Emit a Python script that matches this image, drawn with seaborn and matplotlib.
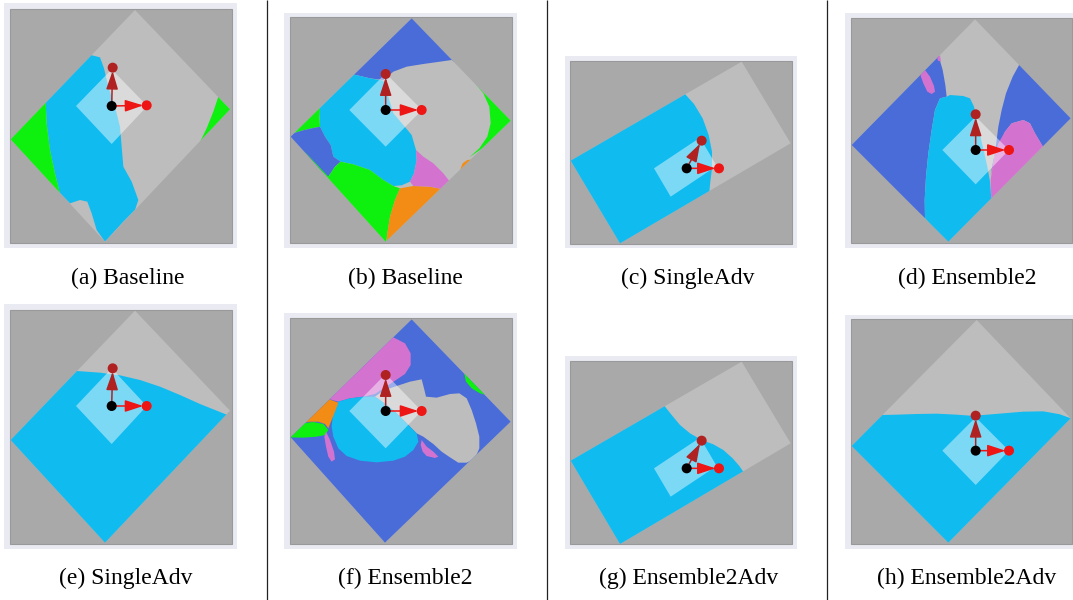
import matplotlib
matplotlib.use("Agg")
import matplotlib.pyplot as plt
from matplotlib.patches import Polygon, Rectangle
import seaborn as sns

sns.set_theme(style="darkgrid")
plt.rcParams["font.family"] = ["Liberation Serif", "DejaVu Serif"]

W, H = 1073, 600

# colours
BG = "#a9a9a9"
FIELD = "#bdbdbd"
CYAN = "#10bbf0"
GREEN = "#0ef00e"
ROYAL = "#4a6cd8"
ORCHID = "#d472d0"
ORANGE = "#f28c14"
FRAME = "#eaeaf2"

# panel layout (figure px) -- each panel drawn in 3x "zoom" units
labels = ["(a) Baseline", "(b) Baseline", "(c) SingleAdv", "(d) Ensemble2",
          "(e) SingleAdv", "(f) Ensemble2", "(g) Ensemble2Adv", "(h) Ensemble2Adv"]
crop_origin = [(0, 0), (270, 0), (550, 40), (830, 0), (0, 300), (270, 300), (550, 340), (830, 300)]
crop_size = [(250, 300), (270, 300), (260, 260), (243, 300), (250, 300), (270, 300), (260, 260), (243, 300)]
caption_xy = [(128, 278), (405, 278), (688, 278), (967, 278), (126, 578), (405, 578), (689, 578), (967, 578)]
separators_x = [267, 547, 827]

frames = [(12, 8, 710, 745), (42, 38, 740, 745), (45, 48, 740, 625), (45, 40, 735, 745),
          (12, 12, 710, 748), (42, 40, 740, 748), (45, 48, 740, 628), (45, 45, 735, 748)]
inners = [(30, 27, 695, 728), (60, 52, 725, 730), (60, 62, 725, 612), (62, 55, 725, 730),
          (30, 30, 695, 732), (60, 55, 725, 732), (60, 62, 725, 612), (62, 58, 725, 732)]

# input point, first and second direction points
origin_pts = [(335, 318), (347, 330), (410, 385), (437, 450), (335, 318), (347, 333), (410, 385), (437, 452)]
dir1_pts = [(440, 316), (455, 330), (507, 385), (537, 450), (440, 318), (455, 333), (507, 385), (537, 452)]
dir2_pts = [(338, 203), (347, 222), (455, 302), (437, 343), (338, 205), (347, 225), (455, 302), (437, 347)]

# sampled domain (rotated square / rectangle)
domain_a = [(405, 30), (690, 328), (315, 725), (32, 418)]
domain_b = [(425, 55), (722, 362), (347, 725), (62, 410)]
domain_c = [(575, 65), (722, 310), (210, 610), (62, 362)]
domain_d = [(435, 58), (722, 355), (355, 725), (65, 435)]
domain_e = [(405, 32), (690, 332), (315, 728), (32, 420)]
domain_f = [(425, 58), (722, 365), (345, 728), (62, 412)]
domain_g = [(575, 65), (722, 310), (210, 612), (62, 362)]
domain_h = [(440, 60), (722, 355), (355, 728), (65, 438)]

# epsilon ball around the input
ball_a = [(228, 318), (335, 208), (442, 318), (335, 432)]
ball_b = [(238, 330), (347, 220), (456, 330), (347, 440)]
ball_c = [(312, 385), (450, 293), (500, 378), (362, 470)]
ball_d = [(337, 450), (437, 350), (537, 450), (437, 553)]
ball_e = [(228, 318), (335, 205), (440, 318), (335, 432)]
ball_f = [(238, 333), (347, 222), (455, 333), (347, 445)]
ball_g = [(312, 385), (450, 293), (500, 378), (362, 470)]
ball_h = [(337, 452), (437, 352), (537, 452), (437, 555)]

# decision regions (clipped to domain)
a_cyan = [(272, 165), (300, 172), (312, 205), (325, 260), (345, 320), (360, 380), (365, 440), (370, 500),
          (395, 545), (415, 600), (405, 630), (370, 665), (315, 725), (290, 690), (275, 640), (262, 605),
          (240, 600), (210, 610), (180, 580), (165, 520), (150, 450), (140, 370), (137, 305), (100, 260), (240, 130)]
a_green_l = [(137, 305), (140, 370), (150, 450), (165, 520), (180, 580), (150, 600), (0, 420), (100, 290)]
a_green_r = [(655, 290), (640, 335), (620, 385), (598, 430), (650, 440), (720, 320), (680, 260)]

b_royal_top = [(245, 222), (300, 235), (340, 240), (370, 215), (410, 200), (460, 192), (510, 185), (545, 180),
               (580, 205), (620, 256), (700, 200), (430, 0), (200, 200)]
b_green_r = [(620, 256), (640, 280), (658, 320), (662, 370), (652, 410), (628, 445), (598, 472), (760, 360)]
b_orange_r = [(610, 478), (592, 480), (578, 490), (572, 505), (572, 522), (650, 520)]
b_cyan = [(245, 222), (300, 235), (340, 242), (355, 290), (370, 340), (400, 375), (425, 405), (438, 450),
          (440, 480), (432, 520), (420, 545), (395, 556), (370, 558), (340, 540), (300, 510), (250, 493),
          (212, 485), (190, 470), (182, 435), (165, 410), (150, 380), (148, 340), (150, 325), (100, 300), (230, 180)]
b_green_l = [(150, 325), (148, 350), (150, 380), (125, 385), (95, 392), (70, 400), (30, 380), (120, 290)]
b_royal_l = [(70, 400), (95, 392), (125, 385), (150, 380), (165, 410), (182, 435), (190, 470), (212, 485),
             (195, 500), (175, 530), (30, 420)]
b_green_b = [(175, 530), (195, 500), (212, 485), (250, 493), (300, 510), (340, 540), (370, 558), (390, 565),
             (375, 600), (360, 650), (352, 700), (347, 740), (100, 450)]
b_orange_b = [(390, 565), (430, 558), (480, 560), (520, 568), (545, 552), (600, 560), (420, 710), (370, 722),
              (350, 740), (352, 700), (360, 650), (375, 600)]
b_orchid = [(438, 450), (460, 470), (490, 490), (520, 520), (545, 552), (520, 568), (480, 560), (430, 558),
            (420, 545), (432, 520), (440, 480)]

c_cyan = [(405, 162), (432, 192), (458, 235), (476, 285), (486, 335), (486, 385), (481, 425), (478, 455),
          (200, 640), (30, 360), (390, 140)]

d_royal_l = [(325, 165), (338, 210), (346, 255), (350, 290), (330, 295), (315, 330), (305, 390), (295, 460),
             (288, 530), (284, 600), (285, 655), (40, 430), (300, 140)]
d_orchid_s = [(275, 215), (285, 210), (300, 230), (312, 258), (315, 275), (305, 282), (292, 275), (280, 250), (272, 228)]
d_orchid_t = [(320, 168), (330, 166), (333, 185), (324, 182)]
d_cyan = [(350, 290), (360, 285), (400, 288), (420, 295), (432, 320), (440, 360), (450, 405), (462, 455),
          (472, 500), (480, 545), (484, 598), (355, 740), (285, 655), (284, 600), (288, 530), (295, 460),
          (305, 390), (315, 330), (330, 295)]
d_royal_r = [(570, 190), (548, 230), (528, 280), (515, 330), (505, 380), (500, 420), (495, 460), (488, 500),
             (482, 525), (490, 480), (505, 440), (525, 395), (545, 370), (580, 360), (600, 370), (615, 400),
             (640, 442), (760, 355), (600, 150)]
d_orchid = [(525, 395), (545, 370), (580, 360), (600, 370), (615, 400), (630, 425), (642, 445), (484, 600),
            (482, 540), (488, 500), (495, 460), (505, 430)]

e_cyan = [(230, 213), (300, 218), (360, 226), (420, 240), (480, 260), (540, 285), (600, 312), (650, 332),
          (685, 346), (760, 400), (320, 780), (0, 420), (200, 180)]

f_royal = [(425, 0), (800, 365), (345, 800), (0, 412)]
f_gray = [(315, 290), (340, 272), (380, 258), (420, 245), (455, 238), (462, 265), (468, 290), (500, 293),
          (540, 282), (568, 280), (590, 295), (605, 330), (618, 370), (628, 410), (628, 445), (615, 475),
          (590, 488), (565, 488), (540, 472), (515, 455), (490, 432), (460, 410), (440, 400), (410, 370),
          (380, 340), (350, 315)]
f_orchid_t = [(180, 298), (205, 305), (240, 295), (280, 290), (315, 282), (345, 262), (375, 242), (405, 222),
              (422, 195), (422, 160), (405, 130), (370, 112), (330, 90), (150, 290)]
f_cyan = [(205, 305), (240, 295), (280, 290), (315, 290), (350, 315), (380, 340), (410, 370), (440, 400),
          (445, 425), (430, 450), (405, 470), (370, 482), (320, 487), (270, 482), (230, 468), (205, 445),
          (190, 410), (185, 380), (188, 350), (195, 320)]
f_orange = [(178, 298), (205, 308), (195, 335), (185, 360), (175, 385), (165, 372), (145, 365), (120, 365),
            (100, 368), (150, 300)]
f_green_l = [(50, 412), (80, 385), (100, 370), (130, 366), (160, 372), (175, 390), (165, 405), (140, 410), (100, 413)]
f_orchid_l = [(168, 395), (180, 420), (192, 455), (195, 478), (185, 485), (175, 470), (168, 440), (163, 410)]
f_orchid_r = [(455, 420), (470, 440), (490, 455), (505, 470), (495, 474), (470, 468), (458, 455), (452, 435)]
f_green_r = [(583, 222), (588, 245), (605, 265), (630, 280), (655, 287), (672, 285), (600, 180)]

g_cyan = [(345, 200), (365, 225), (390, 255), (420, 280), (455, 300), (490, 313), (520, 330), (548, 355),
          (568, 378), (582, 398), (200, 650), (30, 360), (330, 170)]

h_cyan = [(155, 345), (200, 344), (260, 342), (320, 341), (380, 344), (420, 347), (460, 345), (520, 340),
          (580, 335), (640, 334), (690, 343), (722, 355), (760, 400), (355, 780), (0, 440), (130, 330)]

domains = [domain_a, domain_b, domain_c, domain_d, domain_e, domain_f, domain_g, domain_h]
balls = [ball_a, ball_b, ball_c, ball_d, ball_e, ball_f, ball_g, ball_h]
regions = [
    [(CYAN, a_cyan), (GREEN, a_green_l), (GREEN, a_green_r)],
    [(ROYAL, b_royal_top), (GREEN, b_green_r), (ORANGE, b_orange_r), (CYAN, b_cyan), (GREEN, b_green_l),
     (ROYAL, b_royal_l), (GREEN, b_green_b), (ORANGE, b_orange_b), (ORCHID, b_orchid)],
    [(CYAN, c_cyan)],
    [(ROYAL, d_royal_l), (ORCHID, d_orchid_s), (ORCHID, d_orchid_t), (CYAN, d_cyan), (ROYAL, d_royal_r),
     (ORCHID, d_orchid)],
    [(CYAN, e_cyan)],
    [(ROYAL, f_royal), (FIELD, f_gray), (ORCHID, f_orchid_t), (CYAN, f_cyan), (ORANGE, f_orange),
     (GREEN, f_green_l), (ORCHID, f_orchid_l), (ORCHID, f_orchid_r), (GREEN, f_green_r)],
    [(CYAN, g_cyan)],
    [(CYAN, h_cyan)],
]

fig = plt.figure(figsize=(W / 100, H / 100), dpi=100)
fig.patch.set_facecolor("white")

# background axes for separators and captions
bg = fig.add_axes([0, 0, 1, 1])
bg.set_xlim(0, W)
bg.set_ylim(H, 0)
bg.axis("off")
bg.vlines(separators_x, 0, H, color="#222222", lw=0.9)
for lab, (cx, cy) in zip(labels, caption_xy):
    bg.text(cx, cy, lab, ha="center", va="center", fontsize=17, color="black")

arrow_style = "-|>,head_length=0.55,head_width=0.18"

for i in range(8):
    ox, oy = crop_origin[i]
    w, h = crop_size[i]
    ax = fig.add_axes([ox / W, 1 - (oy + h) / H, w / W, h / H])
    ax.set_facecolor("none")

    x0, y0, x1, y1 = frames[i]
    ax.add_patch(Rectangle((x0, y0), x1 - x0, y1 - y0, facecolor=FRAME, edgecolor="none", zorder=0))
    x0, y0, x1, y1 = inners[i]
    inner = Rectangle((x0, y0), x1 - x0, y1 - y0, facecolor=BG, edgecolor="#999999", lw=0.8, zorder=1)
    ax.add_patch(inner)

    dom = Polygon(domains[i], closed=True, facecolor=FIELD, edgecolor="none", zorder=2)
    ax.add_patch(dom)
    dom.set_clip_path(inner)
    for col, poly in regions[i]:
        p = Polygon(poly, closed=True, facecolor=col, edgecolor="none", zorder=2.5)
        ax.add_patch(p)
        p.set_clip_path(dom)

    ax.add_patch(Polygon(balls[i], closed=True, facecolor="white", alpha=0.45, edgecolor="none", zorder=3))

    o = origin_pts[i]
    ax.annotate("", xy=dir1_pts[i], xytext=o, zorder=4,
                arrowprops=dict(arrowstyle=arrow_style, color="#ee1515",
                                lw=1.1, shrinkA=0, shrinkB=2.5, mutation_scale=20))
    ax.annotate("", xy=dir2_pts[i], xytext=o, zorder=4,
                arrowprops=dict(arrowstyle=arrow_style, color="#b02222",
                                lw=1.1, shrinkA=0, shrinkB=2.5, mutation_scale=20))

    xs = [o[0], dir1_pts[i][0], dir2_pts[i][0]]
    ys = [o[1], dir1_pts[i][1], dir2_pts[i][1]]
    sns.scatterplot(x=xs, y=ys, hue=["x", "d1", "d2"],
                    palette={"x": "black", "d1": "#ee1515", "d2": "#b02222"},
                    s=52, linewidth=0, legend=False, ax=ax, zorder=5)

    ax.set_xlim(0, 3 * w)
    ax.set_ylim(3 * h, 0)
    ax.axis("off")

fig.savefig("out.png", dpi=100)
